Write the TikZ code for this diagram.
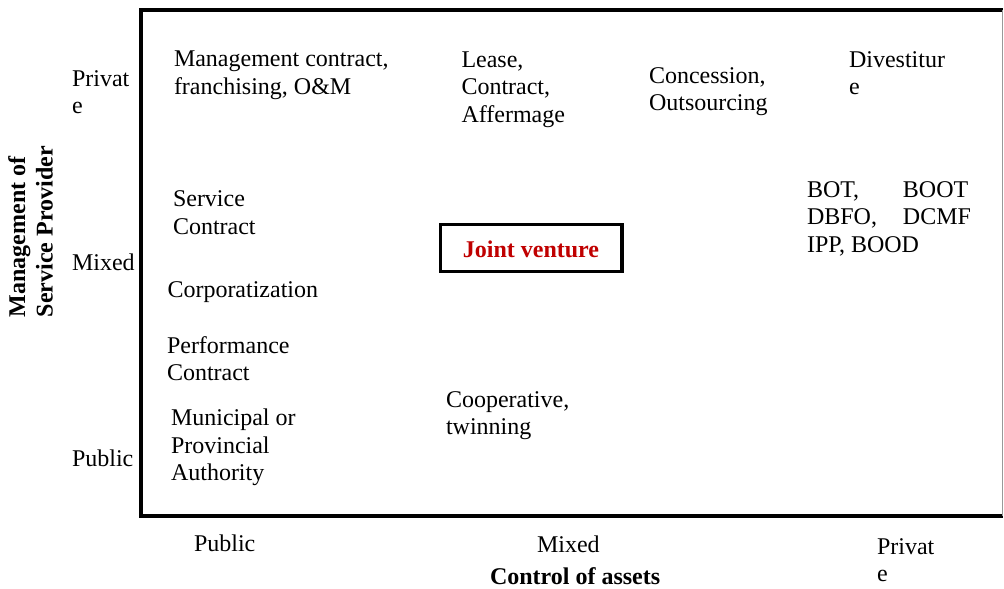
\documentclass[tikz,border=0pt]{standalone}
\usepackage{fontspec}
\setmainfont{Liberation Serif}
\definecolor{jvred}{HTML}{C00000}
\tikzset{
  lbl/.style={anchor=north west, inner sep=0pt, outer sep=0pt, align=left,
    font=\fontsize{24}{27.6}\selectfont},
  boldlbl/.style={lbl, font=\fontsize{24}{27.6}\selectfont\bfseries},
  vlbl/.style={boldlbl, rotate=90},
  frame/.style={line width=4pt, black},
  jvbox/.style={draw=black, line width=3.5pt, minimum width=181.5pt, minimum height=47pt,
    inner sep=0pt, font=\fontsize{24}{27.6}\selectfont\bfseries, text=jvred}
}
% north of a node = baseline - 19.32 (strut height)
\begin{document}
\begin{tikzpicture}[x=1pt,y=-1pt]
\useasboundingbox (0,0) rectangle (1004,589);
% frame
\draw[frame] (1003,10) -- (141,10) -- (141,516) -- (1003,516);
\draw[black!40, line width=1pt] (1002.5,10) -- (1002.5,516);
% y axis labels
\node[lbl] (yprivate) at (72,66.9) {\strut Privat\\e};
\node[lbl] (ymixed) at (72,250.7) {\strut Mixed};
\node[lbl] (ypublic) at (72,446.7) {\strut Public};
% x axis labels
\node[lbl] (xpublic) at (194,531.7) {\strut Public};
\node[lbl] (xmixed) at (537,532.7) {\strut Mixed};
\node[lbl] (xprivate) at (877,534.7) {\strut Privat\\e};
\node[boldlbl, anchor=base west] (xtitle) at (490,584) {Control of assets};
\node[vlbl] (ytitle) at (5.7,317) {\strut Management of\\Service Provider};
% cells
\node[lbl] (mgmt) at (174,47.5) {\strut Management contract,\\franchising, O\&M};
\node[lbl] (lease) at (461.5,47.7) {\strut Lease,\\Contract,\\Affermage};
\node[lbl] (conc) at (649,63.7) {\strut Concession,\\Outsourcing};
\node[lbl] (divest) at (849,47.7) {\strut Divestitur\\e};
\node[lbl] (service) at (173,187.4) {\strut Service\\Contract};
\node[lbl] (bot) at (807,177.7) {\strut\makebox[96pt][l]{BOT,}BOOT\\\makebox[96pt][l]{DBFO,}DCMF\\IPP, BOOD};
\node[lbl] (corp) at (167.5,278) {\strut Corporatization};
\node[lbl] (perf) at (167,334) {\strut Performance\\Contract};
\node[lbl] (muni) at (171,406.4) {\strut Municipal or\\Provincial\\Authority};
\node[lbl] (coop) at (446,387.7) {\strut Cooperative,\\twinning};
\node[jvbox] (jv) at (531,248) {\raisebox{-9.3pt}[0pt][0pt]{Joint venture}\hspace{4pt}};
\end{tikzpicture}
\end{document}
